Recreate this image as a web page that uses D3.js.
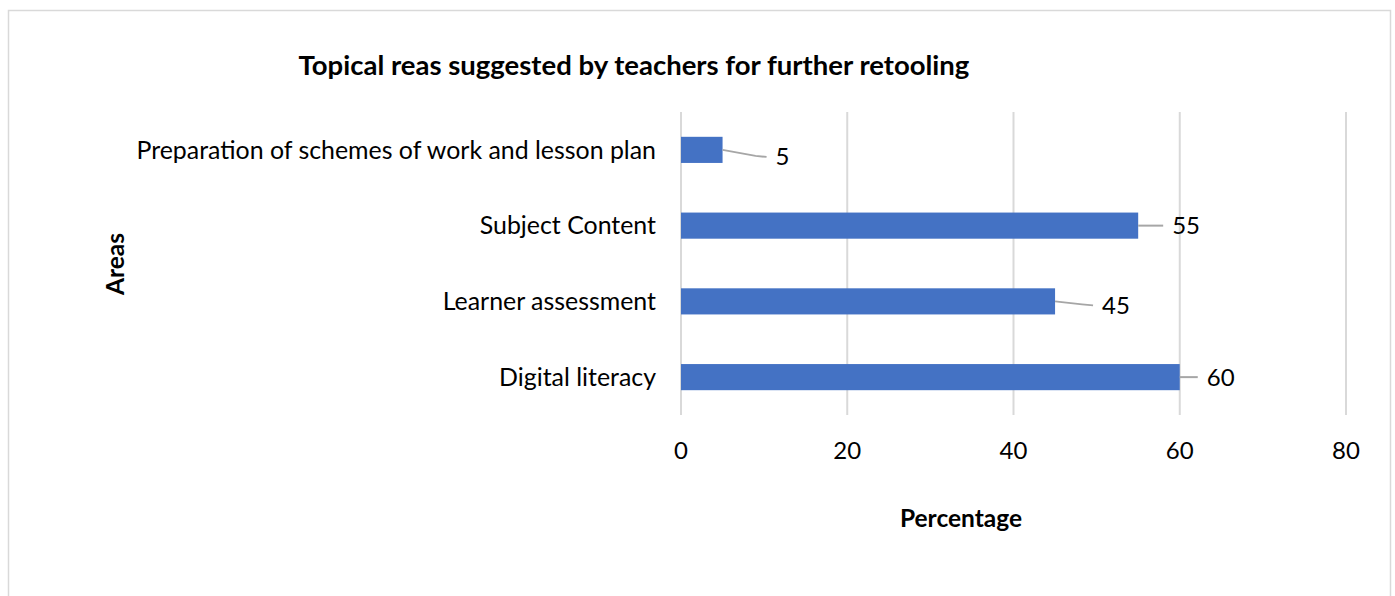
<!DOCTYPE html>
<html>
<head>
<meta charset="utf-8">
<script src="https://cdn.jsdelivr.net/npm/d3@7"></script>
<style>
  body { margin: 0; background: #fff; }
  text { font-family: Lato, "Open Sans", sans-serif; fill: #000; }
</style>
</head>
<body>
<div id="chart"></div>
<script>
// data
var areas = ["Preparation of schemes of work and lesson plan", "Subject Content", "Learner assessment", "Digital literacy"];
var percentages = [5, 55, 45, 60];
var xTicks = [0, 20, 40, 60, 80];

// where Excel dragged the data labels (dx from bar end, dy from bar centre)
var labelNudge = [[53, 7], [34, 0], [47, 4], [27, 0]];

var W = 1395, H = 596;
var margin = {top: 112, right: 49, bottom: 181, left: 681},
    width = W - margin.left - margin.right,
    height = H - margin.top - margin.bottom;

var svg = d3.select("#chart").append("svg")
    .attr("width", W)
    .attr("height", H);

// outer chart border
svg.append("rect")
    .attr("x", 8.5).attr("y", 10.5)
    .attr("width", 1382).attr("height", 600)
    .attr("fill", "none")
    .attr("stroke", "#d9d9d9")
    .attr("stroke-width", 1.5);

var g = svg.append("g")
    .attr("transform", "translate(" + margin.left + "," + margin.top + ")");

var x = d3.scaleLinear().domain([0, 80]).range([0, width]);
var y = d3.scaleBand().domain(areas).range([0, height]).paddingInner(0.655).paddingOuter(0.3275);

// gridlines
g.selectAll(".grid")
    .data(xTicks)
    .enter().append("line")
    .attr("x1", function(d) { return x(d); })
    .attr("x2", function(d) { return x(d); })
    .attr("y1", 0)
    .attr("y2", height)
    .attr("stroke", "#d9d9d9")
    .attr("stroke-width", 2);

// x tick labels
g.selectAll(".tick-label")
    .data(xTicks)
    .enter().append("text")
    .attr("x", function(d) { return x(d); })
    .attr("y", height + 44)
    .attr("text-anchor", "middle")
    .style("font-size", "24px")
    .text(function(d) { return d; });

// category labels
g.selectAll(".cat")
    .data(areas)
    .enter().append("text")
    .attr("x", -25)
    .attr("y", function(d) { return y(d) + y.bandwidth() / 2; })
    .attr("dy", "0.35em")
    .attr("text-anchor", "end")
    .style("font-size", "24.9px")
    .text(function(d) { return d; });

// bars
g.selectAll(".bar")
    .data(areas)
    .enter().append("rect")
    .attr("x", x(0))
    .attr("y", function(d) { return y(d); })
    .attr("width", function(d, i) { return x(percentages[i]) - x(0); })
    .attr("height", y.bandwidth())
    .attr("fill", "#4472c4");

// leader lines + value labels
areas.forEach(function(d, i) {
  var x0 = x(percentages[i]),
      y0 = y(d) + y.bandwidth() / 2,
      lx = x0 + labelNudge[i][0],
      ly = y0 + labelNudge[i][1];

  var pts = labelNudge[i][1] === 0
    ? [[x0, y0], [lx - 9, ly]]
    : [[x0, y0], [lx - 20, ly - 1], [lx - 9, ly]];

  g.append("path")
    .attr("d", d3.line()(pts))
    .attr("fill", "none")
    .attr("stroke", "#a6a6a6")
    .attr("stroke-width", 2);

  g.append("text")
    .attr("x", lx)
    .attr("y", ly)
    .attr("dy", "0.35em")
    .style("font-size", "24px")
    .text(percentages[i]);
});

// title
svg.append("text")
    .attr("x", 634)
    .attr("y", 75)
    .attr("text-anchor", "middle")
    .style("font-size", "27.5px")
    .style("font-weight", "bold")
    .text("Topical reas suggested by teachers for further retooling");

// x axis title
svg.append("text")
    .attr("x", 961)
    .attr("y", 527)
    .attr("text-anchor", "middle")
    .style("font-size", "24.5px")
    .style("font-weight", "bold")
    .text("Percentage");

// y axis title
svg.append("text")
    .attr("transform", "translate(124,264) rotate(-90)")
    .attr("text-anchor", "middle")
    .style("font-size", "24.5px")
    .style("font-weight", "bold")
    .text("Areas");
</script>
</body>
</html>
